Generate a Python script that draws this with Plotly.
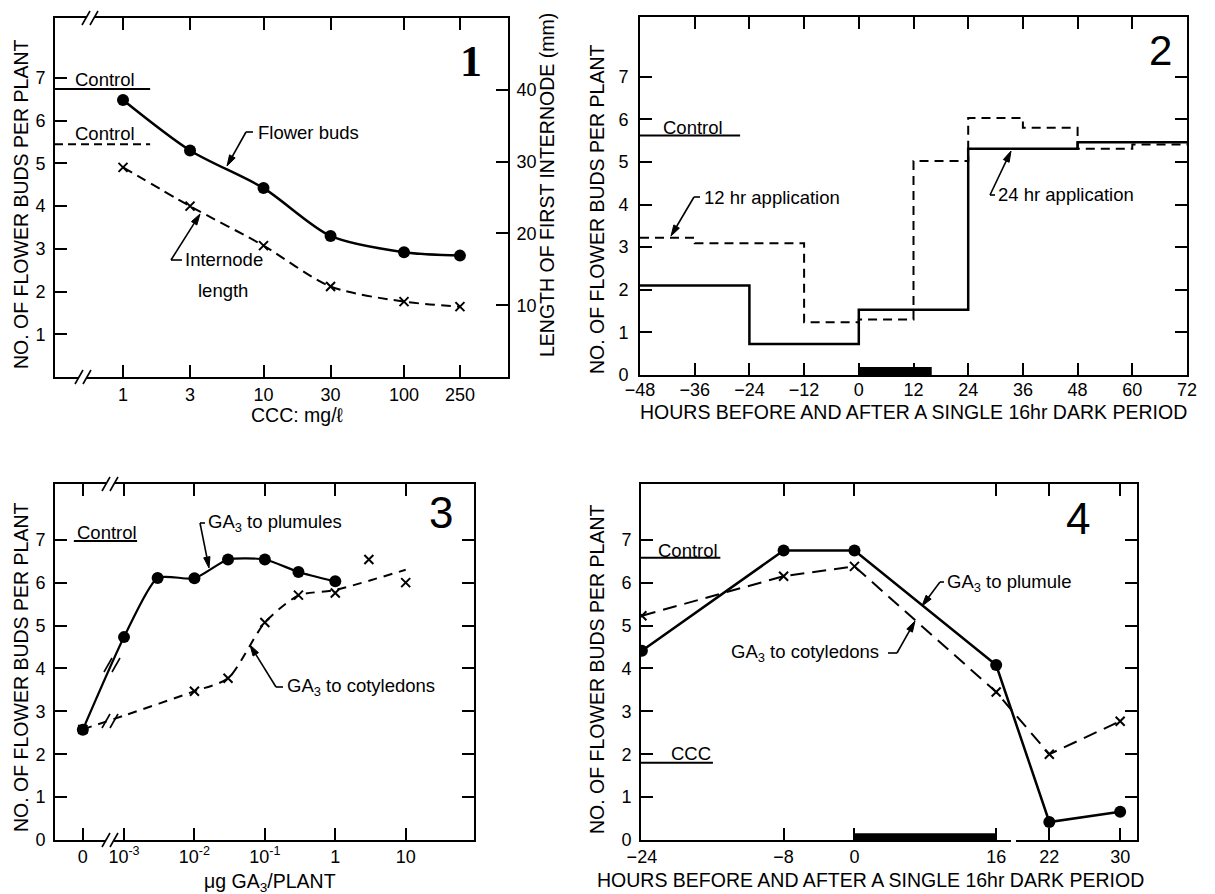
import plotly.graph_objects as go
import math

# ---------------- data ----------------
# Fig. 1  (CCC dose response)
p1_ccc = [1, 3, 10, 30, 100, 250]
p1_xtick_labels = ["1", "3", "10", "30", "100", "250"]
p1_buds = [6.48, 5.30, 4.42, 3.30, 2.92, 2.84]
p1_internode_mm = [29.2, 23.8, 18.3, 12.6, 10.5, 9.8]
p1_control_buds = 6.74
p1_control_internode_mm = 32.4
p1_yticks = [1, 2, 3, 4, 5, 6, 7]
p1_y2ticks = [10, 20, 30, 40]

# Fig. 2  (timing of CCC application, step data)
p2_hours_24 = [-48, -24, 0, 24, 48, 72]
p2_buds_24 = [2.10, 0.73, 1.53, 5.31, 5.46, 5.46]
p2_hours_12 = [-48, -36, -12, 0, 12, 24, 36, 48, 60, 72]
p2_buds_12 = [3.22, 3.09, 1.24, 1.30, 5.02, 6.03, 5.80, 5.31, 5.41, 5.41]
p2_control = 5.62
p2_dark = [0, 16]
p2_xticks = [-48, -36, -24, -12, 0, 12, 24, 36, 48, 60, 72]
p2_yticks = [0, 1, 2, 3, 4, 5, 6, 7]

# Fig. 3  (GA3 dose response)
p3_plum_dose = [0, 1e-3, 3e-3, 1e-2, 3e-2, 1e-1, 0.3, 1]
p3_plum_buds = [2.57, 4.73, 6.11, 6.10, 6.54, 6.54, 6.25, 6.03]
p3_cot_dose = [0, 1e-2, 3e-2, 1e-1, 0.3, 1, 3, 10]
p3_cot_buds = [2.58, 3.47, 3.77, 5.07, 5.71, 5.76, 6.54, 6.00]
p3_cot_fit_dose = [0, 1e-3, 1e-2, 3e-2, 1e-1, 0.3, 1, 10]
p3_cot_fit_buds = [2.58, 2.90, 3.47, 3.77, 5.07, 5.70, 5.83, 6.30]
p3_control = 6.97
p3_xtick_dose = [0, 1e-3, 1e-2, 1e-1, 1, 10]
p3_xtick_labels = ["0", "10<sup>-3</sup>", "10<sup>-2</sup>", "10<sup>-1</sup>", "1", "10"]
p3_yticks = [0, 1, 2, 3, 4, 5, 6, 7]

# Fig. 4  (timing of GA3 application)
p4_hours = [-24, -8, 0, 16, 22, 30]
p4_plumule = [4.41, 6.75, 6.75, 4.08, 0.42, 0.66]
p4_cotyledons = [5.23, 6.15, 6.38, 3.45, 2.00, 2.77]
p4_control = 6.58
p4_ccc = 1.80
p4_dark = [0, 16]
p4_yticks = [0, 1, 2, 3, 4, 5, 6, 7]

# ---------------- layout helpers ----------------
W, H = 1215, 894
FONT = "Liberation Sans, Arial, sans-serif"
ZERO_POS = -3.585  # position used for the "0" dose left of the axis break


def px_x(x):
    return x / W


def px_y(y):
    return 1 - y / H


def dx(l, r):
    return [px_x(l), px_x(r)]


def dy(t, b):
    return [px_y(b), px_y(t)]


def dose_pos(d):
    return math.log10(d) if d > 0 else ZERO_POS


AX = dict(showline=True, linewidth=2, linecolor="black", ticks="inside",
          ticklen=12, tickwidth=2, tickcolor="black", showgrid=False,
          zeroline=False, tickfont=dict(family=FONT, size=18, color="black"),
          fixedrange=True, automargin=False)

fig = go.Figure()

SOLID = dict(color="black", width=2.5)
DOT = dict(symbol="circle", size=12, color="black")
XMK = dict(symbol="x-thin", size=9, color="black", line=dict(width=2, color="black"))

# ---- Fig 1 traces ----
fig.add_trace(go.Scatter(x=p1_ccc, y=p1_buds, mode="lines+markers",
                         line=dict(shape="spline", smoothing=0.8, **SOLID), marker=DOT,
                         xaxis="x", yaxis="y"))
fig.add_trace(go.Scatter(x=p1_ccc, y=p1_internode_mm, mode="lines+markers",
                         line=dict(shape="spline", smoothing=0.8, color="black", width=2, dash="10px,6px"),
                         marker=XMK, xaxis="x", yaxis="y2"))

# ---- Fig 2 traces ----
fig.add_trace(go.Scatter(x=p2_hours_12, y=p2_buds_12, mode="lines",
                         line=dict(shape="hv", color="black", width=2, dash="9px,6px"),
                         xaxis="x2", yaxis="y3"))
fig.add_trace(go.Scatter(x=p2_hours_24, y=p2_buds_24, mode="lines",
                         line=dict(shape="hv", **SOLID), xaxis="x2", yaxis="y3"))

# ---- Fig 3 traces ----
fig.add_trace(go.Scatter(x=[dose_pos(d) for d in p3_cot_fit_dose], y=p3_cot_fit_buds, mode="lines",
                         line=dict(shape="spline", smoothing=0.7, color="black", width=2, dash="9px,7px"),
                         xaxis="x3", yaxis="y4"))
fig.add_trace(go.Scatter(x=[dose_pos(d) for d in p3_cot_dose], y=p3_cot_buds, mode="markers",
                         marker=XMK, xaxis="x3", yaxis="y4"))
fig.add_trace(go.Scatter(x=[dose_pos(d) for d in p3_plum_dose], y=p3_plum_buds, mode="lines+markers",
                         line=dict(shape="spline", smoothing=0.6, color="black", width=2.2), marker=DOT,
                         xaxis="x3", yaxis="y4"))

# ---- Fig 4 traces ----
fig.add_trace(go.Scatter(x=p4_hours, y=p4_cotyledons, mode="lines+markers",
                         line=dict(color="black", width=2, dash="14px,8px"), marker=XMK,
                         xaxis="x4", yaxis="y5"))
fig.add_trace(go.Scatter(x=p4_hours, y=p4_plumule, mode="lines+markers",
                         line=SOLID, marker=DOT, xaxis="x4", yaxis="y5"))

# ---------------- axes ----------------
fig.update_layout(
    xaxis=dict(domain=dx(55, 508), anchor="y", type="log", range=[-0.484, 2.74],
               tickvals=p1_ccc, ticktext=p1_xtick_labels, mirror="ticks",
               ticklabelstandoff=0, **AX),
    yaxis=dict(domain=dy(18, 377), anchor="x", range=[0, 8.4], tickvals=p1_yticks,
               ticklabelstandoff=4, **AX),
    yaxis2=dict(overlaying="y", side="right", anchor="x", range=[0, 50],
                tickvals=p1_y2ticks, ticklabelstandoff=3, **AX),
    xaxis2=dict(domain=dx(640, 1187), anchor="y3", range=[-48, 72],
                tickvals=p2_xticks, mirror="ticks", ticklabelstandoff=-3, **AX),
    yaxis3=dict(domain=dy(17, 375), anchor="x2", range=[0, 8.4],
                tickvals=p2_yticks, mirror="ticks", ticklabelstandoff=6, **AX),
    xaxis3=dict(domain=dx(55, 474), anchor="y4", range=[-3.98, 1.97],
                tickvals=[dose_pos(d) for d in p3_xtick_dose], ticktext=p3_xtick_labels,
                mirror="ticks", ticklabelstandoff=-1, **AX),
    yaxis4=dict(domain=dy(484, 840), anchor="x3", range=[0, 8.3],
                tickvals=p3_yticks, mirror="ticks", ticklabelstandoff=4, **AX),
    xaxis4=dict(domain=dx(641, 1137), anchor="y5", range=[-24.1, 31.9],
                tickvals=p4_hours, mirror="ticks", ticklabelstandoff=-1, **AX),
    yaxis5=dict(domain=dy(484, 840), anchor="x4", range=[0, 8.3],
                tickvals=p4_yticks, mirror="ticks", ticklabelstandoff=4, **AX),
)

# ---------------- shapes ----------------
shapes = []


def hline(xref, x0, x1, yref, y, dash="solid", width=2):
    shapes.append(dict(type="line", xref=xref, yref=yref, x0=x0, x1=x1, y0=y, y1=y,
                       line=dict(color="black", width=width, dash=dash)))


hline("x domain", 0, 0.21, "y", p1_control_buds)
hline("x domain", 0, 0.21, "y2", p1_control_internode_mm, dash="8px,5px")
hline("x2 domain", 0, 0.183, "y3", p2_control)
hline("x3 domain", 0.045, 0.196, "y4", p3_control)
hline("x4 domain", 0, 0.16, "y5", p4_control)
hline("x4 domain", 0, 0.145, "y5", p4_ccc)

# dark-period bars
shapes.append(dict(type="rect", xref="x2", yref="y3", x0=p2_dark[0], x1=p2_dark[1], y0=0, y1=0.19,
                   fillcolor="black", line=dict(width=0)))
shapes.append(dict(type="rect", xref="x4", yref="y5", x0=p4_dark[0], x1=p4_dark[1], y0=0, y1=0.16,
                   fillcolor="black", line=dict(width=0)))


def pline(x0, y0, x1, y1, width=1.6):
    shapes.append(dict(type="line", xref="paper", yref="paper",
                       x0=px_x(x0), y0=px_y(y0), x1=px_x(x1), y1=px_y(y1),
                       line=dict(color="black", width=width)))


def arrow(tip, tail, head=11, half=3.2):
    """Labelling arrow drawn in pixel space: shaft plus filled narrow head."""
    vx, vy = tip[0] - tail[0], tip[1] - tail[1]
    n = math.hypot(vx, vy)
    ux, uy = vx / n, vy / n
    bx, by = tip[0] - ux * head, tip[1] - uy * head
    pline(tail[0], tail[1], bx, by, width=1.6)
    p1 = (bx - uy * half, by + ux * half)
    p2 = (bx + uy * half, by - ux * half)
    path = "M {} {} L {} {} L {} {} Z".format(
        px_x(tip[0]), px_y(tip[1]), px_x(p1[0]), px_y(p1[1]), px_x(p2[0]), px_y(p2[1]))
    shapes.append(dict(type="path", xref="paper", yref="paper", path=path,
                       fillcolor="black", line=dict(color="black", width=1)))


def axis_break(cx, cy, gap=True):
    if gap:
        shapes.append(dict(type="rect", xref="paper", yref="paper",
                           x0=px_x(cx - 4), x1=px_x(cx + 4), y0=px_y(cy + 2), y1=px_y(cy - 2),
                           fillcolor="white", line=dict(width=0)))
    for d in (-4, 4):
        pline(cx + d - 4, cy + 7, cx + d + 4, cy - 7, width=1.6)


axis_break(90, 18)
axis_break(83, 377)
axis_break(110, 484)
axis_break(110, 840)
axis_break(112, 665, gap=False)
axis_break(110, 721, gap=False)
# gap in the time axis of Fig 4
shapes.append(dict(type="rect", xref="paper", yref="paper",
                   x0=px_x(1011), x1=px_x(1016), y0=px_y(843), y1=px_y(837),
                   fillcolor="white", line=dict(width=0)))

# labelling arrows with their short horizontal leaders
pline(246, 132, 253, 132)
arrow((227, 166), (246, 132))
pline(171, 260, 182, 260)
arrow((200, 214), (171, 260))
pline(694, 197, 700, 197)
arrow((671, 236), (694, 197))
pline(990, 195, 995, 195)
arrow((1011, 151), (990, 195))
pline(200, 523, 205, 523)
arrow((209, 568), (200, 523))
pline(276, 687, 283, 687)
arrow((250, 645), (276, 687))
pline(940, 582, 944, 582)
arrow((922, 606), (940, 582))
pline(888, 653, 897, 653)
arrow((915, 621), (897, 653))

fig.update_layout(shapes=shapes)

# ---------------- annotations ----------------
ann = []
TS = 18.5


def txt(x, y, text, size=TS, xanchor="left", angle=0, family=FONT, weight="normal"):
    ann.append(dict(x=px_x(x), y=px_y(y), xref="paper", yref="paper", text=text,
                    showarrow=False, xanchor=xanchor, yanchor="middle", textangle=angle,
                    font=dict(family=family, size=size, color="black", weight=weight)))


YT = "NO. OF FLOWER BUDS PER PLANT"
XT = "HOURS BEFORE AND AFTER A SINGLE 16hr DARK PERIOD"
TT = 19.5

# Fig 1
txt(73, 79, "Control")
txt(73, 133, "Control")
txt(256, 132, "Flower buds")
txt(224, 260, "Internode", xanchor="center")
txt(223, 290, "length", xanchor="center")
txt(471, 61, "1", size=44, xanchor="center", family="Liberation Serif, serif", weight="bold")
txt(21, 205, YT, size=TT, xanchor="center", angle=-90)
txt(547, 185, "LENGTH OF FIRST INTERNODE (mm)", size=TT, xanchor="center", angle=-90)
txt(297, 415, "CCC: mg/ℓ", size=TT, xanchor="center")

# Fig 2
txt(661, 127, "Control")
txt(702, 197, "12 hr application")
txt(996, 195, "24 hr application")
txt(1160, 51, "2", size=42, xanchor="center")
txt(597, 210, YT, size=TT, xanchor="center", angle=-90)
txt(914, 412, XT, size=TT, xanchor="center")

# Fig 3
txt(75, 532, "Control")
txt(206, 523, "GA<sub>3</sub> to plumules")
txt(285, 687, "GA<sub>3</sub> to cotyledons")
txt(441, 512, "3", size=44, xanchor="center")
txt(21, 668, YT, size=TT, xanchor="center", angle=-90)
txt(270, 882, "μg GA<sub>3</sub>/PLANT", size=TT, xanchor="center")

# Fig 4
txt(656, 550, "Control")
txt(669, 753, "CCC")
txt(945, 583, "GA<sub>3</sub> to plumule")
txt(729, 653, "GA<sub>3</sub> to cotyledons")
txt(1078, 518, "4", size=44, xanchor="center")
txt(597, 670, YT, size=TT, xanchor="center", angle=-90)
txt(870, 880, XT, size=TT, xanchor="center")

fig.update_layout(
    annotations=ann,
    width=W, height=H,
    margin=dict(l=0, r=0, t=0, b=0, autoexpand=False),
    paper_bgcolor="white", plot_bgcolor="white",
    showlegend=False,
    hovermode=False,
    font=dict(family=FONT, color="black"),
)

fig.write_html("out.html", config={"displayModeBar": False, "staticPlot": True},
               post_script="document.body.style.margin='0';document.body.style.overflow='hidden';")
